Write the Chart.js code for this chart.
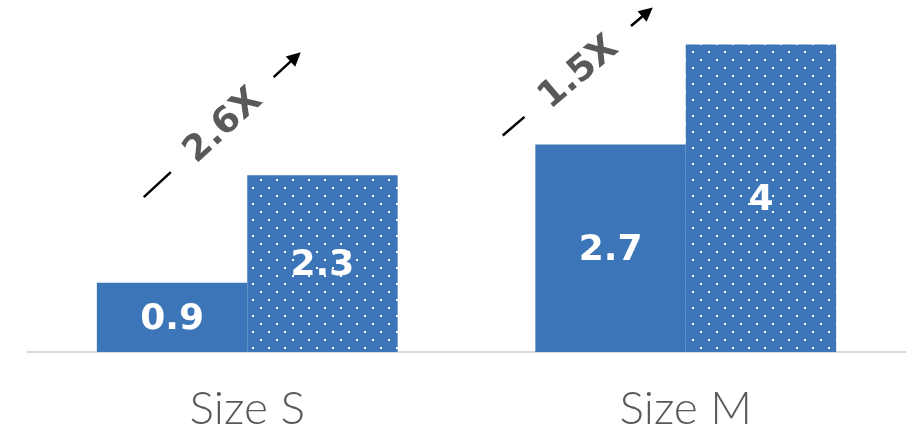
<!DOCTYPE html>
<html><head><meta charset="utf-8">
<script src="https://cdn.jsdelivr.net/npm/chart.js@4"></script>
<style>html,body{margin:0;padding:0;background:#fff}#wrap{width:913px;height:428px}</style>
</head><body><div id="wrap"><canvas id="c" width="913" height="428"></canvas></div>
<script>
const categories = ["Size S", "Size M"];
const solidValues = [0.9, 2.7];
const dottedValues = [2.3, 4];
const ratioLabels = ["2.6X", "1.5X"];

const BLUE = '#3D76B8';
const GREY = '#595959';

function makePattern() {
  const p = document.createElement('canvas');
  p.width = 16; p.height = 16;
  const g = p.getContext('2d');
  g.fillStyle = BLUE; g.fillRect(0, 0, 16, 16);
  g.fillStyle = '#ffffff';
  g.fillRect(4, 3, 2, 2);
  g.fillRect(12, 11, 2, 2);
  return document.getElementById('c').getContext('2d').createPattern(p, 'repeat');
}

// per-category arrow geometry relative to category centre / dotted bar top
const arrowGeom = [
  {sx: -103.5, sy: 22, ex: 53.5, ey: -123},
  {sx: -183, sy: 91, ex: -33, ey: -37}
];

const overlay = {
  id: 'overlay',
  afterDatasetsDraw(chart) {
    const ctx = chart.ctx;
    ctx.save();
    ctx.fillStyle = '#ffffff';
    ctx.font = 'bold 36px "DejaVu Sans"';
    ctx.textAlign = 'center';
    ctx.textBaseline = 'middle';
    chart.data.datasets.forEach((ds, di) => {
      chart.getDatasetMeta(di).data.forEach((bar, i) => {
        ctx.fillText(String(ds.data[i]), bar.x, (bar.y + bar.base) / 2 + 2);
      });
    });
    const xs = chart.scales.x;
    const dMeta = chart.getDatasetMeta(1);
    ratioLabels.forEach((lab, i) => {
      const cx = xs.getPixelForValue(i);
      const top = dMeta.data[i].y;
      const g = arrowGeom[i];
      const x1 = cx + g.sx, y1 = top + g.sy, x2 = cx + g.ex, y2 = top + g.ey;
      const ang = Math.atan2(y2 - y1, x2 - x1);
      const len = Math.hypot(x2 - x1, y2 - y1);
      const mx = (x1 + x2) / 2, my = (y1 + y2) / 2;
      ctx.save();
      ctx.translate(mx, my);
      ctx.rotate(ang);
      ctx.strokeStyle = '#000';
      ctx.fillStyle = '#000';
      ctx.lineWidth = 2.5;
      const gap = 70;
      ctx.beginPath();
      ctx.moveTo(-len / 2, 0); ctx.lineTo(-gap, 0);
      ctx.moveTo(gap, 0); ctx.lineTo(len / 2 - 10, 0);
      ctx.stroke();
      ctx.beginPath();
      ctx.moveTo(len / 2, 0);
      ctx.lineTo(len / 2 - 14, -7);
      ctx.lineTo(len / 2 - 14, 7);
      ctx.closePath(); ctx.fill();
      ctx.fillStyle = GREY;
      ctx.font = 'bold 36px "DejaVu Sans"';
      ctx.textAlign = 'center';
      ctx.textBaseline = 'middle';
      ctx.fillText(lab, 0, 2);
      ctx.restore();
    });
    ctx.restore();
  }
};

new Chart(document.getElementById('c'), {
  type: 'bar',
  data: {
    labels: categories,
    datasets: [
      {data: solidValues, backgroundColor: BLUE, borderWidth: 0},
      {data: dottedValues, backgroundColor: makePattern(), borderWidth: 0}
    ]
  },
  options: {
    responsive: false,
    animation: false,
    devicePixelRatio: 1,
    layout: {padding: {left: 28, right: 8, top: 6, bottom: 0}},
    plugins: {legend: {display: false}, tooltip: {enabled: false}},
    datasets: {bar: {barPercentage: 1, categoryPercentage: 0.686}},
    scales: {
      x: {
        grid: {display: false, drawTicks: false},
        border: {display: true, color: '#d9d9d9', width: 2},
        ticks: {color: GREY, font: {family: 'Lato', size: 46, weight: 300, lineHeight: 1.2}, padding: 30},
        afterFit(scale) { scale.height = 76; }
      },
      y: {display: false, min: 0, max: 4.5}
    }
  },
  plugins: [overlay]
});
</script></body></html>
